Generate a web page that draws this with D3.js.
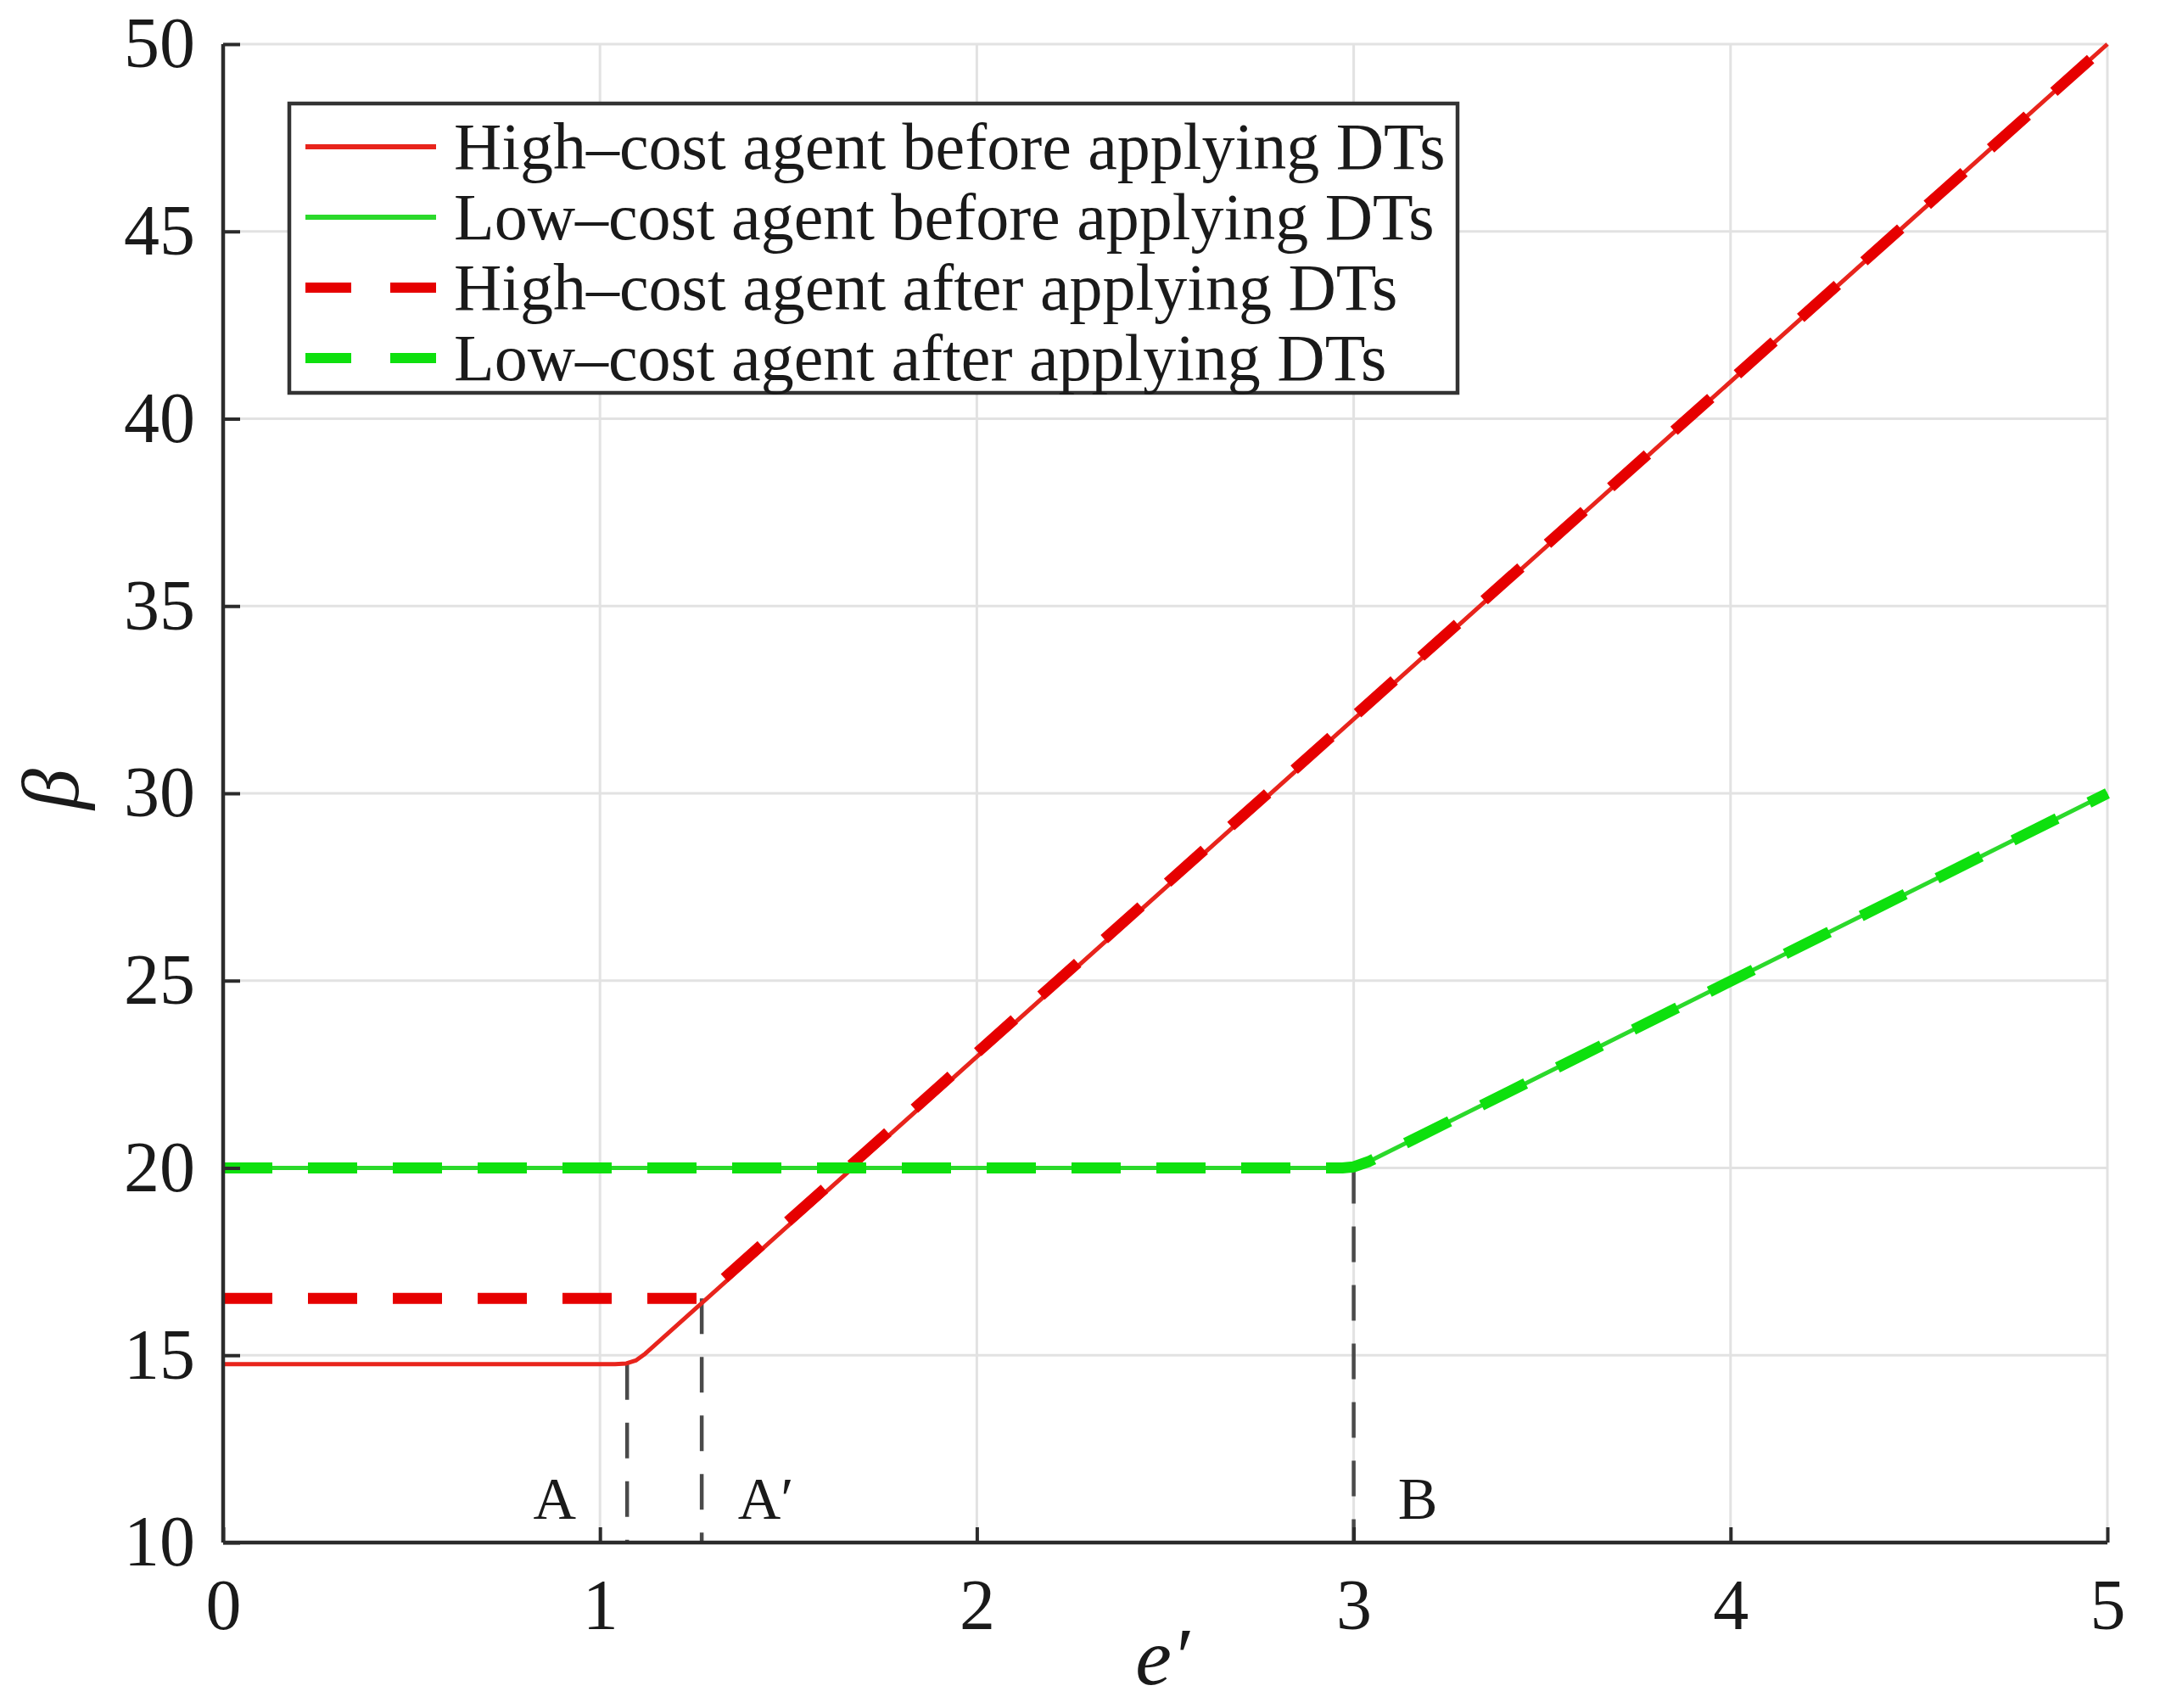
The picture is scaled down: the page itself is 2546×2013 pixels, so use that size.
<!DOCTYPE html>
<html>
<head>
<meta charset="utf-8">
<script src="https://cdn.jsdelivr.net/npm/d3@7"></script>
<style>
  html, body { margin: 0; padding: 0; background: #ffffff; }
  svg { display: block; }
  text { font-family: "Liberation Serif", "DejaVu Serif", serif; fill: #1a1a1a; }
</style>
</head>
<body>
<svg id="chart" width="2546" height="2013"></svg>
<script>
// ---- data ----
const xTicks = [0, 1, 2, 3, 4, 5];
const yTicks = [10, 15, 20, 25, 30, 35, 40, 45, 50];

const highBefore = [[0, 14.76], [1.04, 14.76], [1.07, 14.78], [1.095, 14.86], [1.12, 15.04], [5, 50]];
const lowBefore  = [[0, 20], [2.97, 20], [3.0, 20.03], [3.04, 20.17], [5, 30]];
const highAfter  = [[0, 16.52], [1.27, 16.52], [5, 50]];
const lowAfter   = [[0, 20], [2.97, 20], [3.0, 20.03], [3.04, 20.17], [5, 30]];

const guideX      = [1.072, 1.27, 3];
const guideTop    = [14.76, 16.52, 20];
const guideLabels = ["A", "A\u2032", "B"];
const guideLabelX = [0.88, 1.44, 3.17];

const legendLabels = [
  "High\u2013cost agent before applying DTs",
  "Low\u2013cost agent before applying DTs",
  "High\u2013cost agent after applying DTs",
  "Low\u2013cost agent after applying DTs"
];

// ---- layout ----
const svg = d3.select("#chart");
const X0 = 263, X1 = 2484, Y0 = 1818, Y1 = 52;
const x = d3.scaleLinear().domain([0, 5]).range([X0, X1]);
const y = d3.scaleLinear().domain([10, 50]).range([Y0, Y1]);

svg.append("rect").attr("width", 2546).attr("height", 2013).attr("fill", "#fff");

// grid
const grid = svg.append("g").attr("stroke", "#e2e2e2").attr("stroke-width", 3);
grid.selectAll("line.gx").data(xTicks.slice(1)).join("line")
  .attr("x1", d => x(d)).attr("x2", d => x(d)).attr("y1", Y0).attr("y2", Y1);
grid.selectAll("line.gy").data(yTicks.slice(1)).join("line")
  .attr("x1", X0).attr("x2", X1).attr("y1", d => y(d)).attr("y2", d => y(d));

// guide dashed verticals
svg.append("g").selectAll("line").data(guideX).join("line")
  .attr("x1", d => x(d)).attr("x2", d => x(d))
  .attr("y1", (d, i) => y(guideTop[i])).attr("y2", Y0)
  .attr("stroke", "#4a4a4a").attr("stroke-width", 4.5)
  .attr("stroke-dasharray", "42 27");

// series
const line = d3.line().x(d => x(d[0])).y(d => y(d[1])).curve(d3.curveLinear);
const series = [
  { data: highBefore, color: "#e8241c", width: 5, dash: null },
  { data: lowBefore,  color: "#2bd92b", width: 5, dash: null },
  { data: highAfter,  color: "#e60000", width: 13, dash: "58 42" },
  { data: lowAfter,   color: "#0ee00e", width: 13, dash: "58 42" }
];
series.forEach(s => {
  svg.append("path").attr("d", line(s.data))
    .attr("fill", "none").attr("stroke", s.color).attr("stroke-width", s.width)
    .attr("stroke-dasharray", s.dash).attr("stroke-linejoin", "round");
});

// axes
const axisCol = "#2b2b2b";
const xAxis = d3.axisBottom(x).tickValues(xTicks).tickSize(-18).tickPadding(40).tickFormat(d3.format("d"));
const yAxis = d3.axisLeft(y).tickValues(yTicks).tickSize(-20).tickPadding(33).tickFormat(d3.format("d"));
const gx = svg.append("g").attr("transform", `translate(0,${Y0})`).call(xAxis);
const gy = svg.append("g").attr("transform", `translate(${X0},0)`).call(yAxis);
[gx, gy].forEach(g => {
  g.select(".domain").attr("stroke", axisCol).attr("stroke-width", 4.5);
  g.selectAll(".tick line").attr("stroke", axisCol).attr("stroke-width", 4);
  g.selectAll(".tick text").attr("font-family", "Liberation Serif").attr("font-size", 84).attr("fill", "#1a1a1a");
});
gx.selectAll(".tick text").attr("dy", "0.71em").attr("y", 42);
gy.select(".domain").attr("d", `M0,${Y0}V${Y1}`);
gx.select(".domain").attr("d", `M${X0},0H${X1}`);

// guide labels
svg.append("g").selectAll("text").data(guideLabels).join("text")
  .attr("x", (d, i) => x(guideLabelX[i])).attr("y", 1790)
  .attr("text-anchor", "middle").attr("font-size", 70).text(d => d);

// axis labels
svg.append("text").attr("x", 1370).attr("y", 1985).attr("text-anchor", "middle")
  .attr("font-size", 96).attr("font-style", "italic").text("e\u2032");
svg.append("text").attr("transform", "translate(92,930) rotate(-90)")
  .attr("text-anchor", "middle").attr("font-size", 96).attr("font-style", "italic").text("\u03B2");

// legend
const lg = svg.append("g");
lg.append("rect").attr("x", 341).attr("y", 122).attr("width", 1377).attr("height", 341)
  .attr("fill", "#fff").attr("stroke", "#333").attr("stroke-width", 4.5);
series.forEach((s, i) => {
  const cy = 173 + i * 83;
  lg.append("line").attr("x1", 360).attr("x2", 514).attr("y1", cy).attr("y2", cy)
    .attr("stroke", s.color).attr("stroke-width", s.width === 5 ? 6 : 12)
    .attr("stroke-dasharray", s.dash ? "54 46" : null);
  lg.append("text").attr("x", 535).attr("y", cy + 26).attr("font-size", 78).text(legendLabels[i]);
});
</script>
</body>
</html>
